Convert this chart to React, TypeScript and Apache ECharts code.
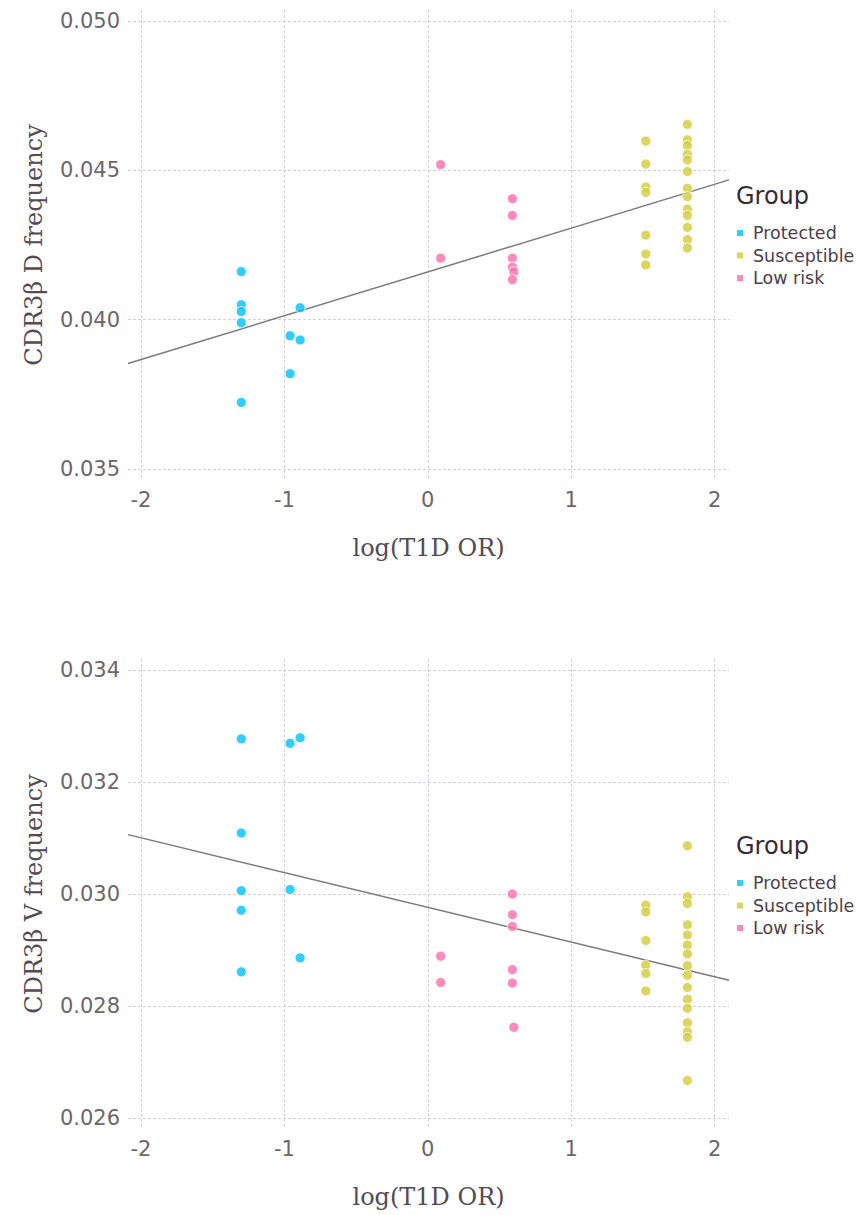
import React, { useEffect, useRef } from "react";
import * as echarts from "echarts";

// ---- Data ----
const groups = ["Protected", "Susceptible", "Low risk"];
const groupColors = ["#00BFFF", "#D4CA3A", "#FF6DAE"];

const xTicks = [-2, -1, 0, 1, 2];
const dTicks = [0.035, 0.04, 0.045, 0.05];
const vTicks = [0.026, 0.028, 0.03, 0.032, 0.034];

// CDR3β D frequency vs log(T1D OR)
const dProtected: [number, number][] = [
  [-1.3, 0.04161], [-1.3, 0.0405], [-1.3, 0.04027], [-1.3, 0.0399], [-1.3, 0.03723],
  [-0.96, 0.03946], [-0.96, 0.03819],
  [-0.89, 0.0404], [-0.89, 0.03932],
];
const dSusceptible: [number, number][] = [
  [1.52, 0.04598], [1.52, 0.04521], [1.52, 0.04444], [1.52, 0.04426], [1.52, 0.04283], [1.52, 0.0422], [1.52, 0.04183],
  [1.81, 0.04654], [1.81, 0.04602], [1.81, 0.04583], [1.81, 0.04554], [1.81, 0.04535], [1.81, 0.04496],
  [1.81, 0.0444], [1.81, 0.04412], [1.81, 0.0437], [1.81, 0.04349], [1.81, 0.04309], [1.81, 0.04268], [1.81, 0.0424],
];
const dLowRisk: [number, number][] = [
  [0.09, 0.04519], [0.09, 0.04206],
  [0.59, 0.04405], [0.59, 0.04349], [0.59, 0.04206], [0.59, 0.04176], [0.6, 0.0416], [0.59, 0.04134],
];
const dFit: [number, number][] = [[-2.09, 0.03853], [2.1, 0.04468]];

// CDR3β V frequency vs log(T1D OR)
const vProtected: [number, number][] = [
  [-1.3, 0.03277], [-1.3, 0.03109], [-1.3, 0.03006], [-1.3, 0.02971], [-1.3, 0.02861],
  [-0.96, 0.03269], [-0.96, 0.03008],
  [-0.89, 0.03279], [-0.89, 0.02886],
];
const vSusceptible: [number, number][] = [
  [1.52, 0.0298], [1.52, 0.02968], [1.52, 0.02917], [1.52, 0.02873], [1.52, 0.02858], [1.52, 0.02827],
  [1.81, 0.03086], [1.81, 0.02995], [1.81, 0.02983], [1.81, 0.02945], [1.81, 0.02927], [1.81, 0.02909],
  [1.81, 0.02893], [1.81, 0.02872], [1.81, 0.02855], [1.81, 0.02833], [1.81, 0.02812], [1.81, 0.02796],
  [1.81, 0.0277], [1.81, 0.02754], [1.81, 0.02744], [1.81, 0.02667],
];
const vLowRisk: [number, number][] = [
  [0.09, 0.02889], [0.09, 0.02842],
  [0.59, 0.03], [0.59, 0.02963], [0.59, 0.02942], [0.59, 0.02865], [0.59, 0.02841], [0.6, 0.02762],
];
const vFit: [number, number][] = [[-2.09, 0.03106], [2.1, 0.02846]];

const panels = [
  { title: "CDR3β D frequency", ticks: dTicks, min: 0.034632, max: 0.050368, series: [dProtected, dSusceptible, dLowRisk], fit: dFit },
  { title: "CDR3β V frequency", ticks: vTicks, min: 0.025804, max: 0.034196, series: [vProtected, vSusceptible, vLowRisk], fit: vFit },
];

const SANS = "DejaVu Sans";
const SERIF = "DejaVu Serif";
const GRID_COLOR = "#D0D0E0";
const TICK_COLOR = "#6C666B";
const LABEL_COLOR = "#564A55";

export default function App() {
  const ref = useRef<HTMLDivElement>(null);

  useEffect(() => {
    if (!ref.current) return;
    const chart = echarts.init(ref.current, null, { renderer: "svg" });

    const gridTops = [10, 659];
    const grid = gridTops.map((t) => ({ left: 128, top: t, width: 601, height: 470 }));

    const xAxis = panels.map((_, i) => ({
      type: "value",
      gridIndex: i,
      min: -2.09,
      max: 2.1,
      name: "log(T1D OR)",
      nameLocation: "middle",
      nameGap: 56,
      nameTextStyle: { fontFamily: SERIF, fontSize: 24, color: LABEL_COLOR },
      axisLine: { show: false },
      axisTick: { show: false, customValues: xTicks },
      axisLabel: {
        customValues: xTicks,
        fontFamily: SANS,
        fontSize: 21,
        color: TICK_COLOR,
        margin: 9,
        formatter: (v: number) => String(Math.round(v)),
      },
      splitLine: { show: true, lineStyle: { color: GRID_COLOR, type: [3, 2], width: 1 } },
    }));

    const yAxis = panels.map((p, i) => ({
      type: "value",
      gridIndex: i,
      min: p.min,
      max: p.max,
      name: p.title,
      nameLocation: "middle",
      nameGap: 82,
      nameTextStyle: { fontFamily: SERIF, fontSize: 24, color: LABEL_COLOR },
      axisLine: { show: false },
      axisTick: { show: false, customValues: p.ticks },
      axisLabel: {
        customValues: p.ticks,
        fontFamily: SANS,
        fontSize: 21,
        color: TICK_COLOR,
        margin: 8,
        formatter: (v: number) => v.toFixed(3),
      },
      splitLine: { show: true, lineStyle: { color: GRID_COLOR, type: [3, 2], width: 1 } },
    }));

    const series: any[] = [];
    panels.forEach((p, i) => {
      series.push({
        type: "line",
        xAxisIndex: i,
        yAxisIndex: i,
        data: p.fit,
        symbol: "none",
        silent: true,
        z: 1,
        lineStyle: { color: "#7A7A7A", width: 1.5 },
      });
      p.series.forEach((data, g) => {
        series.push({
          type: "scatter",
          name: groups[g],
          xAxisIndex: i,
          yAxisIndex: i,
          data,
          symbol: "circle",
          symbolSize: 10,
          z: 2,
          itemStyle: { color: groupColors[g], borderColor: "#FFFFFF", borderWidth: 1 },
        });
      });
    });

    const legendTops = [224, 874];
    const legend = legendTops.map((t) => ({
      orient: "vertical",
      left: 737,
      top: t,
      padding: 0,
      itemWidth: 6,
      itemHeight: 6,
      itemGap: 4.5,
      icon: "rect",
      data: groups,
      itemStyle: { borderWidth: 0 },
      textStyle: {
        fontFamily: SANS,
        fontSize: 17.5,
        lineHeight: 18,
        color: "#4C404B",
        padding: [0, 0, 0, 5],
      },
    }));

    const groupTitleY = [196, 846];
    const graphic = groupTitleY.map((y) => ({
      type: "text",
      x: 736,
      y,
      style: {
        text: "Group",
        fontFamily: SANS,
        fontSize: 24,
        fill: "#362A35",
        align: "left",
        verticalAlign: "middle",
      },
    }));

    chart.setOption({
      animation: false,
      backgroundColor: "#FFFFFF",
      grid,
      xAxis,
      yAxis,
      series,
      legend,
      graphic,
    });

    return () => chart.dispose();
  }, []);

  return (
    <div
      ref={ref}
      style={{ position: "absolute", left: 0, top: 0, width: 858, height: 1215 }}
    />
  );
}
